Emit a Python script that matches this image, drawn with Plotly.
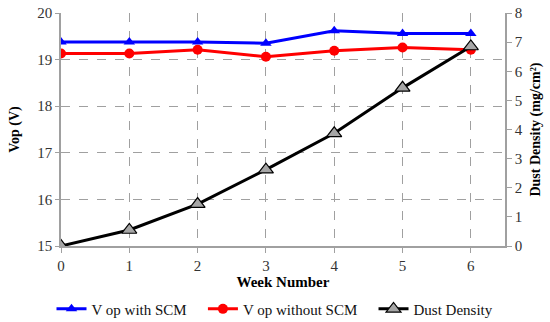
import plotly.graph_objects as go

weeks = [0, 1, 2, 3, 4, 5, 6]
vop_with_scm = [19.38, 19.38, 19.38, 19.35, 19.62, 19.56, 19.56]
vop_without_scm = [19.13, 19.13, 19.21, 19.06, 19.19, 19.26, 19.21]
dust_density = [0.0, 0.55, 1.44, 2.62, 3.87, 5.43, 6.85]
series_names = ["V op with SCM", "V op without SCM", "Dust Density"]

FONT = "Liberation Serif"
TICKFONT = dict(family=FONT, size=15, color="#333333")
PAD = "\u00a0" * 3

fig = go.Figure()
fig.add_trace(go.Scatter(
    x=weeks, y=vop_with_scm, name=series_names[0] + PAD, mode="lines+markers",
    line=dict(color="#0000FF", width=3),
    marker=dict(symbol="triangle-up", size=10, color="#0000FF"),
))
fig.add_trace(go.Scatter(
    x=weeks, y=vop_without_scm, name=series_names[1] + PAD, mode="lines+markers",
    line=dict(color="#FF0000", width=3),
    marker=dict(symbol="circle", size=10, color="#FF0000"),
))
fig.add_trace(go.Scatter(
    x=weeks, y=dust_density, name=series_names[2], mode="lines+markers",
    yaxis="y2",
    line=dict(color="#000000", width=3),
    marker=dict(symbol="triangle-up", size=13, color="#A6A6A6",
                line=dict(color="#000000", width=1.2)),
))

fig.update_layout(
    width=550, height=322,
    margin=dict(l=61, r=45, t=13, b=76),
    paper_bgcolor="white", plot_bgcolor="white",
    font=dict(family=FONT, size=14, color="#222222"),
    showlegend=True,
    legend=dict(orientation="h", xref="container", yref="container",
                x=0.5, xanchor="center", y=0.04, yanchor="middle",
                font=dict(family=FONT, size=15, color="#111111"),
                itemwidth=30, tracegroupgap=0),
    xaxis=dict(
        range=[0, 6.5], tickvals=weeks, ticktext=[str(w) for w in weeks],
        tickfont=TICKFONT, automargin=False,
        showgrid=True, gridcolor="#A0A0A0", griddash="dash", gridwidth=1,
        showline=True, linecolor="#A0A0A0", linewidth=1.5,
        ticks="outside", ticklen=5, tickcolor="#A0A0A0",
        zeroline=False,
        title=dict(text="<b>Week Number</b>", font=dict(family=FONT, size=15, color="#000000"),
                   standoff=2),
    ),
    yaxis=dict(
        range=[15, 20], dtick=1,
        tickfont=TICKFONT, automargin=False,
        showgrid=True, gridcolor="#A0A0A0", griddash="dash", gridwidth=1,
        showline=True, linecolor="#A0A0A0", linewidth=1.5,
        ticks="outside", ticklen=4, tickcolor="#A0A0A0",
        zeroline=False,
        title=dict(text="<b>Vop (V)</b>", font=dict(family=FONT, size=14, color="#000000"),
                   standoff=14),
    ),
    yaxis2=dict(
        range=[0, 8], dtick=1, overlaying="y", side="right",
        tickfont=TICKFONT, automargin=False,
        showgrid=False,
        showline=True, linecolor="#A0A0A0", linewidth=1.5,
        ticks="outside", ticklen=5, tickcolor="#A0A0A0",
        zeroline=False,
        title=dict(text="<b>Dust Density (mg/cm²)</b>", font=dict(family=FONT, size=14, color="#000000"),
                   standoff=8),
    ),
)

fig.write_html("out.html")
